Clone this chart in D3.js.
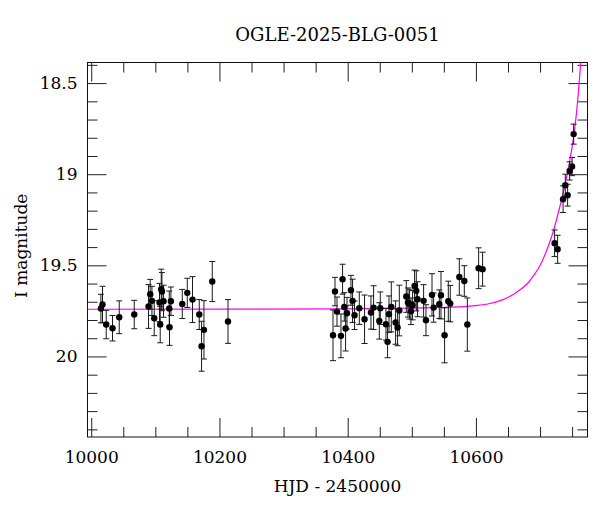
<!DOCTYPE html>
<html>
<head>
<meta charset="utf-8">
<script src="https://cdn.jsdelivr.net/npm/d3@7"></script>
<style>
  body { margin: 0; background: #fff; }
  svg text { font-family: "DejaVu Serif", serif; fill: #000; }
</style>
</head>
<body>
<svg id="chart" width="600" height="512"></svg>
<script>
// photometry points (HJD - 2450000, I mag, error)
let hjd = [10015.1, 10017.6, 10023.4, 10033.2, 10043.7, 10067.1, 10089.4, 10092.0, 10094.7, 10098.3,
  10106.5, 10107.6, 10109.2, 10110.3, 10112.8, 10121.7, 10122.1, 10124.3, 10142.0, 10149.8,
  10158.0, 10168.5, 10172.1, 10175.8, 10188.8, 10213.3,
  10377.1, 10380.2, 10383.3, 10389.5, 10392.0, 10394.7, 10396.7, 10398.9, 10405.1, 10407.6,
  10410.7, 10418.1, 10426.3, 10436.3, 10440.4, 10449.3, 10450.8, 10459.7, 10462.2, 10464.4,
  10468.0, 10474.7, 10477.8, 10480.5, 10491.4, 10494.0, 10496.5, 10498.7, 10501.2, 10504.3,
  10507.0, 10509.0, 10518.4, 10522.1, 10531.5, 10534.0, 10542.9, 10545.5, 10551.1, 10556.9,
  10560.0, 10574.1, 10581.9, 10586.6, 10604.2, 10610.4,
  10722.7, 10727.4, 10735.9, 10739.4, 10743.0, 10746.1, 10749.9, 10752.4];

let mag = [19.737, 19.715, 19.825, 19.845, 19.785, 19.770, 19.726, 19.659, 19.695, 19.790,
  19.704, 19.825, 19.631, 19.644, 19.697, 19.737, 19.840, 19.697, 19.712, 19.651,
  19.688, 19.770, 19.944, 19.854, 19.589, 19.808,
  19.884, 19.644, 19.754, 19.887, 19.576, 19.728, 19.847, 19.763, 19.637, 19.695,
  19.774, 19.735, 19.796, 19.759, 19.732, 19.805, 19.735, 19.823, 19.920, 19.768,
  19.728, 19.814, 19.841, 19.748, 19.671, 19.704, 19.713, 19.752, 19.719, 19.613,
  19.640, 19.686, 19.695, 19.801, 19.662, 19.732, 19.713, 19.664, 19.884, 19.697,
  19.710, 19.564, 19.586, 19.825, 19.516, 19.521,
  19.379, 19.412, 19.137, 19.060, 19.115, 18.982, 18.958, 18.780];

let magErr = [0.078, 0.10, 0.078, 0.07, 0.09, 0.078, 0.12, 0.082, 0.08, 0.096,
  0.105, 0.10, 0.11, 0.105, 0.088, 0.096, 0.099, 0.078, 0.08, 0.08,
  0.126, 0.082, 0.137, 0.16, 0.11, 0.12,
  0.139, 0.078, 0.08, 0.12, 0.082, 0.078, 0.123, 0.087, 0.082, 0.119,
  0.078, 0.089, 0.133, 0.091, 0.12, 0.10, 0.089, 0.087, 0.087, 0.10,
  0.137, 0.119, 0.10, 0.139, 0.087, 0.08, 0.082, 0.073, 0.08, 0.087,
  0.11, 0.096, 0.089, 0.085, 0.116, 0.08, 0.078, 0.13, 0.151, 0.11,
  0.10, 0.10, 0.084, 0.146, 0.112, 0.093,
  0.073, 0.077, 0.073, 0.06, 0.06, 0.05, 0.05, 0.055];

// model curve
let modelHjd = [9994, 10400, 10500, 10550, 10580, 10600, 10620, 10640, 10660, 10680,
  10690, 10700, 10710, 10720, 10730, 10740, 10750, 10756, 10760, 10764];
let modelMag = [19.741, 19.739, 19.735, 19.731, 19.727, 19.721, 19.711, 19.691, 19.656, 19.601,
  19.556, 19.501, 19.421, 19.321, 19.191, 19.041, 18.851, 18.691, 18.541, 18.361];

let xMajor = [10000, 10200, 10400, 10600];
let yMajor = [18.5, 19, 19.5, 20];

let title = "OGLE-2025-BLG-0051";
let xTitle = "HJD - 2450000";
let yTitle = "I magnitude";

let mLeft = 87.5, mTop = 62.5, w = 500, h = 374.5;

let svg = d3.select("#chart");

let x = d3.scaleLinear().domain([9994.2, 10774]).range([mLeft, mLeft + w]);
let y = d3.scaleLinear().domain([18.387, 20.442]).range([mTop, mTop + h]);

let xMinor = d3.range(10000, 10800, 50).filter(d => xMajor.indexOf(d) < 0);
let yMinor = d3.range(184, 205, 1).map(d => d / 10).filter(d => yMajor.indexOf(d) < 0);

// axes, ticks pointing inward on all four sides
function addAxis(axis, tx, ty) {
  let g = svg.append("g")
    .attr("transform", "translate(" + tx + "," + ty + ")")
    .call(axis);
  g.select(".domain").remove();
  g.selectAll("line").attr("stroke", "#222");
  g.selectAll("text").attr("font-family", "DejaVu Serif").attr("font-size", 17).attr("fill", "#000");
  return g;
}

addAxis(d3.axisBottom(x).tickValues(xMajor).tickSize(-19).tickPadding(14).tickFormat(d3.format("d")), 0, mTop + h);
addAxis(d3.axisBottom(x).tickValues(xMinor).tickSize(-10).tickFormat(""), 0, mTop + h);
addAxis(d3.axisTop(x).tickValues(xMajor).tickSize(-19).tickFormat(""), 0, mTop);
addAxis(d3.axisTop(x).tickValues(xMinor).tickSize(-10).tickFormat(""), 0, mTop);

addAxis(d3.axisLeft(y).tickValues(yMajor).tickSize(-19).tickPadding(10).tickFormat(d3.format("")), mLeft, 0);
addAxis(d3.axisLeft(y).tickValues(yMinor).tickSize(-10).tickFormat(""), mLeft, 0);
addAxis(d3.axisRight(y).tickValues(yMajor).tickSize(-19).tickFormat(""), mLeft + w, 0);
addAxis(d3.axisRight(y).tickValues(yMinor).tickSize(-10).tickFormat(""), mLeft + w, 0);

// frame
svg.append("rect")
  .attr("x", mLeft).attr("y", mTop)
  .attr("width", w).attr("height", h)
  .attr("fill", "none").attr("stroke", "#111").attr("stroke-width", 1);

svg.append("clipPath").attr("id", "plotclip")
  .append("rect").attr("x", mLeft).attr("y", mTop).attr("width", w).attr("height", h);

// model line
let line = d3.line()
  .x((d, i) => x(modelHjd[i]))
  .y((d, i) => y(modelMag[i]))
  .curve(d3.curveCatmullRom.alpha(0.5));

svg.append("path")
  .datum(modelMag)
  .attr("clip-path", "url(#plotclip)")
  .attr("d", line)
  .attr("fill", "none")
  .attr("stroke", "#ff00ff")
  .attr("stroke-width", 1.2);

// error bars + points
let pts = hjd.map((t, i) => ({ t: t, m: mag[i], e: magErr[i] }));

let eb = svg.append("g").attr("stroke", "#1a1a1a").attr("stroke-width", 1);

eb.selectAll("line.bar").data(pts).enter().append("line")
  .attr("x1", d => x(d.t)).attr("x2", d => x(d.t))
  .attr("y1", d => y(d.m - d.e)).attr("y2", d => y(d.m + d.e));
eb.selectAll("line.capt").data(pts).enter().append("line")
  .attr("x1", d => x(d.t) - 3).attr("x2", d => x(d.t) + 3)
  .attr("y1", d => y(d.m - d.e)).attr("y2", d => y(d.m - d.e));
eb.selectAll("line.capb").data(pts).enter().append("line")
  .attr("x1", d => x(d.t) - 3).attr("x2", d => x(d.t) + 3)
  .attr("y1", d => y(d.m + d.e)).attr("y2", d => y(d.m + d.e));

svg.append("g").selectAll("circle").data(pts).enter().append("circle")
  .attr("cx", d => x(d.t))
  .attr("cy", d => y(d.m))
  .attr("r", 3.2)
  .attr("fill", "#000");

// titles
svg.append("text")
  .attr("x", mLeft + w / 2).attr("y", 41)
  .attr("text-anchor", "middle")
  .attr("font-size", 18)
  .text(title);

svg.append("text")
  .attr("x", mLeft + w / 2).attr("y", 492)
  .attr("text-anchor", "middle")
  .attr("font-size", 17)
  .text(xTitle);

svg.append("text")
  .attr("transform", "translate(27," + (mTop + h / 2 - 4) + ") rotate(-90)")
  .attr("text-anchor", "middle")
  .attr("font-size", 17)
  .text(yTitle);
</script>
</body>
</html>
